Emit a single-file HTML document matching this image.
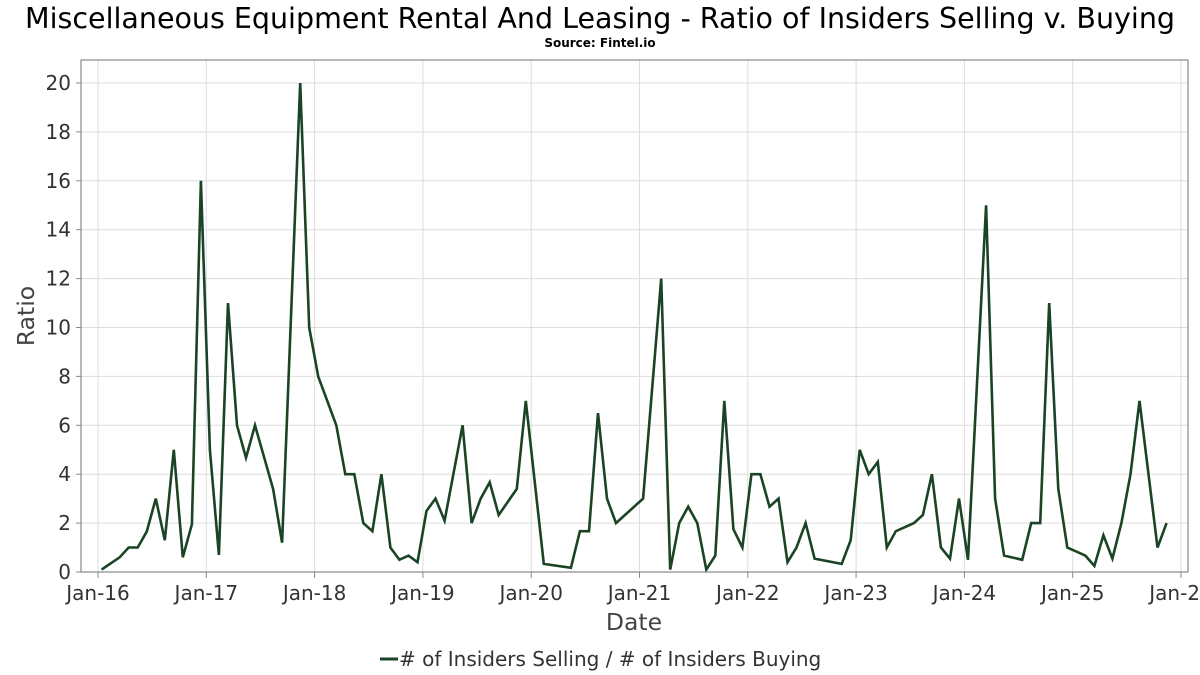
<!DOCTYPE html>
<html><head><meta charset="utf-8"><style>
body{margin:0;background:#fff;font-family:"DejaVu Sans","Liberation Sans",sans-serif;}
svg{display:block}
</style></head><body>
<svg id="chart" width="1200" height="675" xmlns="http://www.w3.org/2000/svg">
<text x="600" y="28" text-anchor="middle" font-size="28.5" fill="#000">Miscellaneous Equipment Rental And Leasing - Ratio of Insiders Selling v. Buying</text>
<text x="600" y="47" text-anchor="middle" font-size="12" font-weight="bold" fill="#000">Source: Fintel.io</text>
<g id="grid"></g>
<g id="yticks"></g>
<g id="xticks"></g>
<g id="series"></g>
<rect x="81" y="60" width="1107" height="512" fill="none" stroke="#888" stroke-width="1.2"/>
<text x="634" y="630" text-anchor="middle" font-size="23.5" fill="#444">Date</text>
<text transform="translate(34,316) rotate(-90)" text-anchor="middle" font-size="23.5" fill="#444">Ratio</text>
<g>
<line x1="380" y1="659" x2="398" y2="659" stroke="#1a4424" stroke-width="3"/>
<text x="399" y="666" font-size="20" fill="#333"># of Insiders Selling / # of Insiders Buying</text>
</g>
</svg>
<script>
// months since Jan-2016
const months = [0,2,3,4,5,6,7,8,9,10,11,12,13,14,15,16,17,19,20,22,23,24,26,27,28,29,30,31,32,33,34,35,36,37,38,40,41,42,43,44,46,47,49,52,53,54,55,56,57,60,62,63,64,65,66,67,68,69,70,71,72,73,74,75,76,77,78,79,82,83,84,85,86,87,88,90,91,92,93,94,95,96,98,99,100,102,103,104,105,106,107,109,110,111,112,113,114,115,117,118];
const ratios = [0.1,0.6,1,1,1.65,3,1.3,5,0.6,1.95,16,5,0.7,11,6,4.67,6,3.4,1.2,20,10,8,6,4,4,2,1.67,4,1,0.5,0.67,0.4,2.5,3,2.1,6,2,3,3.67,2.33,3.4,7,0.33,0.17,1.67,1.67,6.5,3,2,3,12,0.1,2,2.67,2,0.1,0.67,7,1.75,1,4,4,2.67,3,0.4,1,2,0.55,0.33,1.3,5,4,4.5,1,1.67,2,2.33,4,1,0.55,3,0.5,15,3,0.67,0.5,2,2,11,3.4,1,0.67,0.25,1.5,0.55,2,4,7,1,2];
const yTicks = [0,2,4,6,8,10,12,14,16,18,20];
const xTickLabels = ["Jan-16","Jan-17","Jan-18","Jan-19","Jan-20","Jan-21","Jan-22","Jan-23","Jan-24","Jan-25","Jan-26"];

const NS="http://www.w3.org/2000/svg";
const xOf = m => 98 + (m + 0.4) * 9.025;
const yOf = v => 572 - v * 24.45;
function mk(tag, attrs, parent){const e=document.createElementNS(NS,tag);for(const k in attrs)e.setAttribute(k,attrs[k]);parent.appendChild(e);return e;}
const grid=document.getElementById('grid'), yt=document.getElementById('yticks'), xt=document.getElementById('xticks'), ser=document.getElementById('series');
yTicks.forEach(v=>{
  const y=yOf(v);
  const g=mk('line',{x1:81,x2:1188,y1:y,y2:y,stroke:'#ddd','stroke-width':1},grid);
  
  
  mk('line',{x1:76,x2:81,y1:y,y2:y,stroke:'#888'},yt);
  const t=mk('text',{x:71,y:y+7,'text-anchor':'end','font-size':20,fill:'#333'},yt);
  t.textContent=v;
  
  
});
xTickLabels.forEach((lab,i)=>{
  const x=98+i*108.3;
  const g=mk('line',{x1:x,x2:x,y1:60,y2:572,stroke:'#ddd','stroke-width':1},grid);
  
  
  mk('line',{x1:x,x2:x,y1:572,y2:578,stroke:'#888'},xt);
  const t=mk('text',{x:x,y:600,'text-anchor':'middle','font-size':20,fill:'#333'},xt);
  t.textContent=lab;
  
  
});
const pts=months.map((m,i)=>xOf(m).toFixed(1)+','+yOf(ratios[i]).toFixed(1)).join(' ');
const pl=mk('polyline',{points:pts,fill:'none',stroke:'#1a4424','stroke-width':2.6,'stroke-linejoin':'miter'},ser);


</script>
</body></html>
